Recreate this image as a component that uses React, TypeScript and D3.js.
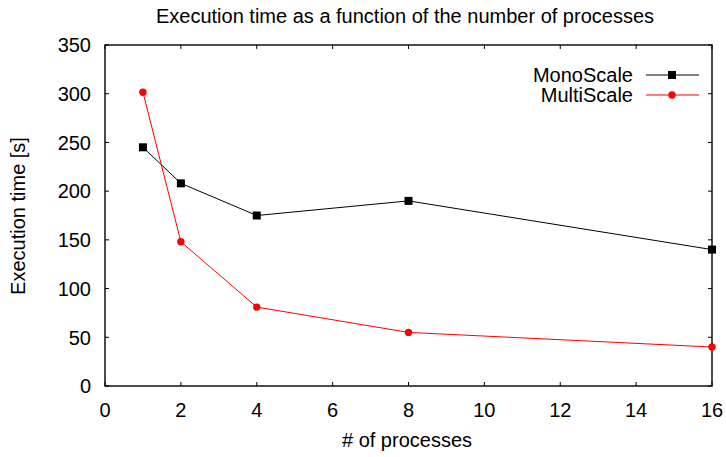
import React from "react";
import * as d3 from "d3";

const processes = [1, 2, 4, 8, 16];
const monoScale = [245, 208, 175, 190, 140];
const multiScale = [301.5, 148, 81, 55, 40];
const xTicks = [0, 2, 4, 6, 8, 10, 12, 14, 16];
const yTicks = [0, 50, 100, 150, 200, 250, 300, 350];
const seriesNames = ["MonoScale", "MultiScale"];
const seriesColors = ["#000000", "#ff0000"];

const W = 726, H = 457;
const M = { left: 105, right: 712, top: 45, bottom: 386 };
const FONT = "'Liberation Sans', Arial, Helvetica, sans-serif";
const FS = 20;

export default function App() {
  const x = d3.scaleLinear().domain([0, 16]).range([M.left, M.right]);
  const y = d3.scaleLinear().domain([0, 350]).range([M.bottom, M.top]);
  const line = d3.line<[number, number]>().x(d => x(d[0])).y(d => y(d[1]));
  const monoPts = processes.map((p, i) => [p, monoScale[i]] as [number, number]);
  const multiPts = processes.map((p, i) => [p, multiScale[i]] as [number, number]);
  const tl = 4;
  return (
    <svg width={W} height={H} style={{ position: "absolute", left: 0, top: 0, background: "#fff" }} fontFamily={FONT}>
      <rect x={0} y={0} width={W} height={H} fill="#fff" />
      <text x={405} y={23} textAnchor="middle" fontSize={FS}>
        Execution time as a function of the number of processes
      </text>
      {xTicks.map(t => (
        <g key={"x" + t}>
          <line x1={x(t)} x2={x(t)} y1={M.bottom} y2={M.bottom - tl} stroke="#000" />
          <line x1={x(t)} x2={x(t)} y1={M.top} y2={M.top + tl} stroke="#000" />
          <text x={x(t)} y={M.bottom + 30.5} textAnchor="middle" fontSize={FS}>{t}</text>
        </g>
      ))}
      {yTicks.map(t => (
        <g key={"y" + t}>
          <line x1={M.left} x2={M.left + tl} y1={y(t)} y2={y(t)} stroke="#000" />
          <line x1={M.right} x2={M.right - tl} y1={y(t)} y2={y(t)} stroke="#000" />
          <text x={M.left - 14} y={y(t) + 7.3} textAnchor="end" fontSize={FS}>{t}</text>
        </g>
      ))}
      <rect x={M.left} y={M.top} width={M.right - M.left} height={M.bottom - M.top} fill="none" stroke="#000" strokeWidth={1.4} />
      <text x={407} y={446.5} textAnchor="middle" fontSize={FS}># of processes</text>
      <text transform={`translate(25, 216) rotate(-90)`} textAnchor="middle" fontSize={FS}>Execution time [s]</text>
      <path d={line(monoPts) || ""} fill="none" stroke={seriesColors[0]} strokeWidth={1} />
      <path d={line(multiPts) || ""} fill="none" stroke={seriesColors[1]} strokeWidth={1} />
      {monoPts.map((d, i) => (
        <rect key={"m" + i} x={x(d[0]) - 4} y={y(d[1]) - 4} width={8} height={8} fill={seriesColors[0]} />
      ))}
      {multiPts.map((d, i) => (
        <circle key={"c" + i} cx={x(d[0])} cy={y(d[1])} r={3.7} fill={seriesColors[1]} />
      ))}
      {seriesNames.map((n, i) => {
        const ly = 75 + i * 20;
        return (
          <g key={n}>
            <text x={633} y={ly + 7} textAnchor="end" fontSize={FS}>{n}</text>
            <line x1={646} x2={699} y1={ly} y2={ly} stroke={seriesColors[i]} />
            {i === 0 ? (
              <rect x={672 - 4} y={ly - 4} width={8} height={8} fill={seriesColors[i]} />
            ) : (
              <circle cx={672} cy={ly} r={3.7} fill={seriesColors[i]} />
            )}
          </g>
        );
      })}
    </svg>
  );
}
